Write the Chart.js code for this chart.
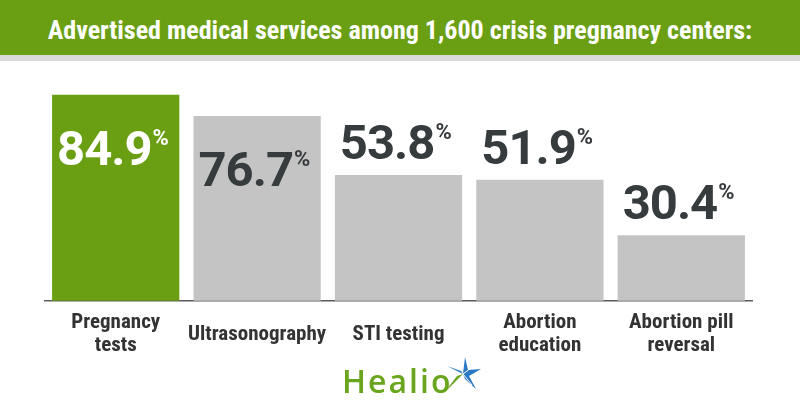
<!DOCTYPE html>
<html>
<head>
<meta charset="utf-8">
<script src="https://cdn.jsdelivr.net/npm/chart.js@4"></script>
<style>
  html, body { margin: 0; padding: 0; background: #fff; }
  #wrap { position: relative; width: 800px; height: 420px; overflow: hidden; }
  #title {
    position: absolute; left: 0; top: 0; width: 800px; height: 55px;
    background: #6b9f13; color: #fff; text-align: center;
    font-family: "Roboto Condensed", "Liberation Sans Narrow", "DejaVu Sans Condensed", sans-serif;
    font-weight: bold; font-size: 26px; line-height: 60px;
  }
  #strip { position: absolute; left: 0; top: 55px; width: 800px; height: 6px; background: #d9d9d9; }
  #chart { position: absolute; left: 0; top: 0; }
  #logo {
    position: absolute; left: 342px; top: 359px; height: 44px;
    font-family: "Open Sans", sans-serif; font-weight: 600; font-size: 32px;
    color: #6aa51e; letter-spacing: 2px;
  }
  #logo svg { position: absolute; left: 100px; top: -2px; }
</style>
</head>
<body>
<div id="wrap">
  <div id="title">Advertised medical services among 1,600 crisis pregnancy centers:</div>
  <div id="strip"></div>
  <canvas id="chart" width="800" height="420"></canvas>
  <div id="logo">Healio<svg width="40" height="38" viewBox="0 0 40 38">
    <polygon points="21,17 23,0 26,13 39,12 27,19 34,32 23,22" fill="#2b78c5"/>
    <polygon points="21,17 5,9 19,14" fill="#2b78c5"/>
    <polygon points="21,17 2,36 15,19" fill="#6aa51e"/>
    <line x1="21" y1="17" x2="36" y2="6" stroke="#ffffff" stroke-width="1"/>
    <line x1="21" y1="17" x2="30" y2="28" stroke="#ffffff" stroke-width="1"/>
  </svg></div>
</div>
<script>
const categories = [["Pregnancy", "tests"], "Ultrasonography", "STI testing", ["Abortion", "education"], ["Abortion pill", "reversal"]];
const values = [84.9, 76.7, 53.8, 51.9, 30.4];
const barColors = ["#6b9f13", "#c4c4c4", "#c4c4c4", "#c4c4c4", "#c4c4c4"];
const labelColors = ["#ffffff", "#363c3e", "#363c3e", "#363c3e", "#363c3e"];

// value labels: big number + small superscript %
const valueLabels = {
  id: "valueLabels",
  afterDatasetsDraw(chart) {
    const ctx = chart.ctx;
    const meta = chart.getDatasetMeta(0);
    ctx.save();
    ctx.textBaseline = "alphabetic";
    ctx.textAlign = "left";
    meta.data.forEach((bar, i) => {
      const left = bar.x - bar.width / 2 + 5;
      const inside = values[i] > 70;
      const base = inside ? bar.y + 70 : bar.y - 16;
      const txt = values[i].toFixed(1);
      ctx.fillStyle = labelColors[i];
      ctx.letterSpacing = "-1px";
      ctx.font = "bold 49px Roboto";
      ctx.fillText(txt, left, base);
      const w = ctx.measureText(txt).width;
      ctx.letterSpacing = "0px";
      ctx.font = "bold 22px Roboto";
      ctx.fillText("%", left + w + 1, base - 20);
    });
    ctx.restore();
  }
};

new Chart(document.getElementById("chart").getContext("2d"), {
  type: "bar",
  data: {
    labels: categories,
    datasets: [{
      data: values,
      backgroundColor: barColors,
      borderWidth: 0,
      barPercentage: 0.9,
      categoryPercentage: 1
    }]
  },
  options: {
    responsive: false,
    animation: false,
    layout: { padding: { top: 61, left: 45, right: 48, bottom: 29 } },
    plugins: { legend: { display: false }, tooltip: { enabled: false } },
    scales: {
      y: { display: false, min: 5, max: 98 },
      x: {
        grid: { display: false, drawTicks: false },
        border: { display: true, color: "#5a5a5a", width: 1.5 },
        ticks: {
          color: "#333",
          padding: 22,
          maxRotation: 0,
          minRotation: 0,
          autoSkip: false,
          crossAlign: "center",
          font: { family: "'Roboto Condensed', 'Liberation Sans Narrow', 'DejaVu Sans Condensed', sans-serif", weight: "bold", size: 21, lineHeight: 1.1 }
        }
      }
    }
  },
  plugins: [valueLabels]
});
</script>
</body>
</html>
